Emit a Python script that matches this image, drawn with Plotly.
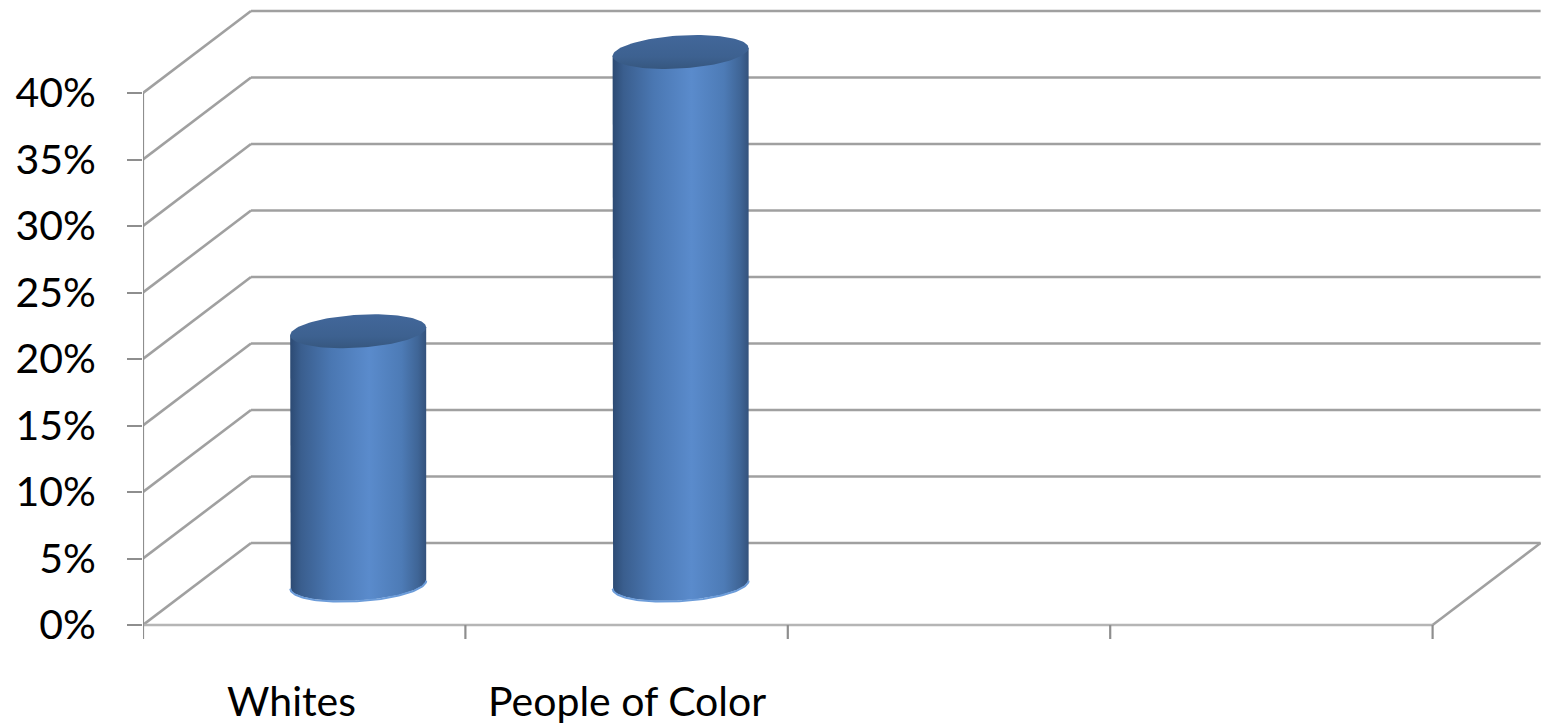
import numpy as np
import plotly.graph_objects as go

# Chart data
categories = ["Whites", "People of Color", "", ""]
values = [19, 40]  # percent
tick_values = [0, 5, 10, 15, 20, 25, 30, 35, 40]
tick_labels = [f"{v}%" for v in tick_values]

# Oblique "3D" geometry in axis units
W, H = 1541, 725
L_MARGIN = 143
PX_PER_CAT = 322.4
PX_PER_PCT = 13.3
ZERO_PX = 625
DEPTH_DX = 108 / PX_PER_CAT
DEPTH_DY = 82 / PX_PER_PCT
X0 = -0.5
X1 = len(categories) - 0.5
YMAX = max(tick_values)

x_range = [X0, X0 + (W - L_MARGIN) / PX_PER_CAT]
y_range = [-(H - ZERO_PX) / PX_PER_PCT, ZERO_PX / PX_PER_PCT]

GRID = "#a0a0a0"
AXIS = "#8e8e8e"
FLOOR = "#b5b5b5"

fig = go.Figure()
shapes = []


def seg(x0, y0, x1, y1, color=GRID, width=2.6):
    shapes.append(dict(type="line", xref="x", yref="y", x0=x0, y0=y0, x1=x1, y1=y1,
                       line=dict(color=color, width=width), layer="below"))


# Back wall gridlines and side wall diagonals
for v in tick_values:
    seg(X0 + DEPTH_DX, v + DEPTH_DY, X1 + DEPTH_DX, v + DEPTH_DY)
    seg(X0, v, X0 + DEPTH_DX, v + DEPTH_DY)
# Floor front edge and right edge
seg(X0, 0, X1, 0, color=FLOOR)
seg(X1, 0, X1 + DEPTH_DX, DEPTH_DY)
# Front vertical axis line
seg(X0, 0, X0, YMAX, color=AXIS, width=2.2)
# Category tick marks
tick_down = -14 / PX_PER_PCT
for k in range(len(categories) + 1):
    seg(X0 + k, 0, X0 + k, tick_down, color=AXIS, width=2.2)

# Cylinders
half_w = 68 / PX_PER_CAT
semi_b = 16.5 / PX_PER_PCT
tilt = 4 / PX_PER_PCT


def ellipse(cx, cy, t0, t1, n=80):
    th = np.linspace(t0, t1, n)
    return cx + half_w * np.cos(th), cy + semi_b * np.sin(th) + tilt * np.cos(th)


body_scale = [[0.0, "#2c4a73"], [0.08, "#3a5e8e"], [0.3, "#4a77b2"],
              [0.58, "#5a8bcc"], [0.82, "#4d7bb6"], [0.94, "#3f6596"], [1.0, "#34527c"]]

for i, v in enumerate(values):
    cx = i + DEPTH_DX / 2
    cy_bot = DEPTH_DY / 2
    cy_top = v + DEPTH_DY / 2
    bx, by = ellipse(cx, cy_bot, np.pi, 2 * np.pi)
    xs = np.concatenate([[cx - half_w], bx, [cx + half_w, cx - half_w]])
    ys = np.concatenate([[cy_top - tilt], by, [cy_top + tilt, cy_top - tilt]])
    fig.add_trace(go.Scatter(
        x=xs, y=ys, mode="lines", fill="toself", line=dict(width=0),
        fillgradient=dict(type="horizontal", colorscale=body_scale),
        hoverinfo="skip", showlegend=False))
    # light rim along the base
    fig.add_trace(go.Scatter(
        x=bx, y=by - 0.05, mode="lines", line=dict(color="#6c9cd9", width=2),
        hoverinfo="skip", showlegend=False))
    tx, ty = ellipse(cx, cy_top, 0, 2 * np.pi, 120)
    fig.add_trace(go.Scatter(
        x=tx, y=ty, mode="lines", fill="toself", line=dict(width=0),
        fillgradient=dict(type="vertical",
                          colorscale=[[0.0, "#36577f"], [0.35, "#3d6190"], [1.0, "#42679a"]]),
        hoverinfo="skip", showlegend=False))

# Category labels under the floor
label_y = -(700 - ZERO_PX) / PX_PER_PCT
label_shift = [-13, 0, 0, 0]
annotations = []
for i, name in enumerate(categories):
    if name:
        annotations.append(dict(x=i, y=label_y, xref="x", yref="y", text=name,
                                showarrow=False, xshift=label_shift[i],
                                font=dict(family="Lato", size=41, color="#000000")))

fig.update_layout(
    width=W, height=H,
    margin=dict(l=L_MARGIN, r=0, t=0, b=0),
    paper_bgcolor="white", plot_bgcolor="white",
    shapes=shapes, annotations=annotations,
    xaxis=dict(range=x_range, visible=False, fixedrange=True),
    yaxis=dict(range=y_range, tickvals=tick_values, ticktext=tick_labels,
               showgrid=False, zeroline=False, showline=False,
               ticks="outside", ticklen=15, tickwidth=2.2, tickcolor=AXIS,
               ticklabelstandoff=23,
               tickfont=dict(family="Lato", size=41, color="#000000"),
               fixedrange=True),
)

fig.write_html("out.html", config={"displayModeBar": False})
